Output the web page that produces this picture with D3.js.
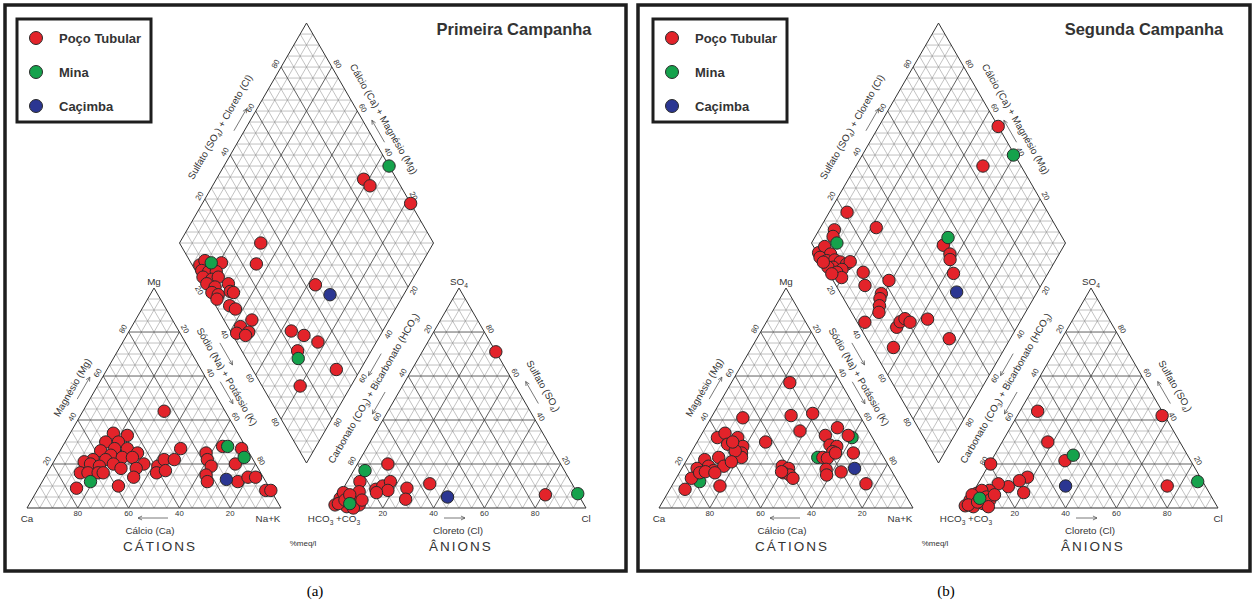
<!DOCTYPE html>
<html>
<head>
<meta charset="utf-8">
<script src="https://cdn.jsdelivr.net/npm/d3@7"></script>
<style>
  html, body { margin: 0; padding: 0; background: #fff; }
  svg { display: block; }
  text { font-family: "Liberation Sans", Arial, sans-serif; fill: #333; }
</style>
</head>
<body>
<svg id="chart" width="1253" height="605"></svg>
<script>
// ---- Series and labels ----------------------------------------------------
const seriesCodes = ["P", "M", "C"];
const seriesNames = ["Poço Tubular", "Mina", "Caçimba"];
const campaignTitles = ["Primeira Campanha", "Segunda Campanha"];
const panelCaptions = ["(a)", "(b)"];
const tickValues = [20, 40, 60, 80];

// Cations: [type, Na+K %, Mg %]  (Ca = 100 - Na+K - Mg)
const cations1 = [
  ["P",32,44],["P",17,34],["P",23,33],["P",16,30],["P",21,30],["P",21,27],["P",26,27],["P",31,25],
  ["P",16,26],["P",21,24],["P",26,23],["P",30,23],["P",15,22],["P",20,22],["P",12,21],["P",15,20],
  ["P",19,19],["P",24,20],["P",28,18],["P",36,20],["P",34,18],["P",13,16],["P",16,16],["P",20,16],
  ["P",22,16],["P",35,14],["P",31,10],["P",15,9],["P",42,19],["P",43,16],["P",43,22],["P",47,22],
  ["P",46,17],["P",47,27],["P",58,25],["P",60,22],["P",63,19],["P",63,15],["P",65,12],["P",63,28],
  ["P",71,27],["P",72,20],["P",77,12],["P",80,14],["P",83,14],["P",90,8],["P",92,8],
  ["M",19,12],["M",65,28],["M",74,23],["C",72,13]
];
// Anions: [type, Cl %, SO4 %]  (HCO3+CO3 = 100 - Cl - SO4)
const anions1 = [
  ["P",29,71],["P",12,20],["P",5,12],["P",13,8.5],["P",15,10],["P",17,12],["P",18,8],["P",14,7],
  ["P",25,9],["P",27,4],["P",33,11],["P",81,6],["P",0.5,1.4],["P",1,4.4],["P",1,7],["P",6.5,5],
  ["P",10,1.4],["P",5.5,0.6],["P",1.5,2],["P",7,7.4],["P",8.4,0],["P",3.3,3.6],["P",10,3.6],["P",4,6],
  ["M",4.5,17],["M",6,2],["M",93.5,6.5],["C",43,5]
];
// Diamond: [type, Ca+Mg %, SO4+Cl %]
const diamond1 = [
  ["P",42,87],["P",38,88],["P",18,100],["P",68,32],["P",65,25.5],["P",37,44],["P",87,3],["P",86,6],
  ["P",79,12],["P",85,2.5],["P",82,5],["P",79,8],["P",83,1.5],["P",79,4.5],["P",77,7.5],["P",80,1.5],
  ["P",76,4],["P",71.5,10],["P",76,1.5],["P",73,3.5],["P",69,9],["P",67.5,10],["P",72.5,2],["P",66,5.5],
  ["P",63,7],["P",54,11],["P",57,5],["P",57,2],["P",52.5,7],["P",53,5],["P",36,24],["P",30,28],
  ["P",23,32],["P",29,22],["P",9.5,33],["P",20,15],
  ["M",35,100],["M",83,8],["M",27,20.5],["C",29,47.5]
];

const cations2 = [
  ["M",10,12],["M",60,32],["M",51,23],
  ["P",23,57],["P",12.5,41],["P",31,42],["P",39,43],["P",38,35],["P",27,30],["P",7,32],["P",9,34],
  ["P",15,32],["P",12.5,29],["P",19,28],["P",20,25],["P",21,23],["P",17,26],["P",14,30],["P",7,22],
  ["P",12,23],["P",6,18],["P",10,19],["P",13,17],["P",16,19],["P",18,21],["P",6,13.5],["P",8,16],
  ["P",10,16.5],["P",14,16],["P",6,8.5],["P",19,10],["P",39,19],["P",42,18],["P",41,16],["P",44,15],
  ["P",46,13.5],["P",40,16.5],["P",49,33],["P",52,36.5],["P",58,33],["P",53,28.6],["P",56,28],
  ["P",55.6,25.6],["P",53,23],["P",55,22.6],["P",57,25],["P",64,25],["P",57,17.6],["P",58.5,15],
  ["P",63.5,16.4],["P",76,11],
  ["C",68,18]
];
const anions2 = [
  ["P",7,44],["P",57,42],["P",18,30],["P",29,21.5],["P",0.5,20],["P",75,10],["P",18,14],["P",15.6,12.4],
  ["P",12.6,9.7],["P",8,11],["P",20,7],["P",6,8],["P",0,1],["P",0.6,3.6],["P",1.7,6.7],["P",3,8],
  ["P",0.2,6],["P",6.3,5],["P",3.4,0.6],["P",6.5,2],["P",8.4,3.6],["P",1,1.4],["P",9.3,0.6],["P",4,2.7],
  ["P",9,6],
  ["M",31,24],["M",86,12],["M",4,4.4],["C",35,10]
];
const diamond2 = [
  ["P",53,100],["P",50,85],["P",93,21],["P",94,12],["P",78,29],["P",93,10],["P",95,0.6],["P",94,4.4],
  ["P",90,5],["P",93.4,0.1],["P",90,2],["P",87,5.3],["P",84.4,7],["P",81.4,9],["P",80.5,11],["P",86,3],
  ["P",82,6],["P",88,1],["P",83.4,3.3],["P",80.3,4],["P",91,0.3],["P",85,1],["P",73,13.7],["P",69.3,11.4],
  ["P",61,22],["P",61,16],["P",60.4,14.3],["P",59,12.5],["P",57.7,10.8],["P",61,3],["P",47.3,14.4],
  ["P",47.2,17],["P",46,19.6],["P",43.2,20.8],["P",37,28.4],["P",44,8.5],["P",47.6,51.4],["P",43,52],
  ["P",41.7,50.8],["P",37.2,49],["P",24,32.5],
  ["M",40.5,99.5],["M",90,10],["M",47.5,55],["C",31.7,46]
];

// ---- Styles ---------------------------------------------------------------
const fillOf = { P: "#e3232a", M: "#15a24c", C: "#2b3692" };
const minorStroke = "#8f8f8f", majorStroke = "#444";

// ---- Geometry -------------------------------------------------------------
const SIDE = 254;
const along = d3.scaleLinear().domain([0, 100]).range([0, SIDE]);
const up = d3.scaleLinear().domain([0, 100]).range([0, SIDE * Math.sqrt(3) / 2]);

// ternary: p = right-corner share, q = apex share
const triPos = (o, p, q) => [o[0] + along(p) + along(q) / 2, o[1] - up(q)];
// diamond: a = Ca+Mg, b = SO4+Cl, o = bottom vertex
const diaPos = (o, a, b) => [o[0] + (along(b) - along(a)) / 2, o[1] - up(a + b)];

function edgePoint(p0, p1, f, off) {
  const dx = p1[0] - p0[0], dy = p1[1] - p0[1];
  const len = Math.hypot(dx, dy);
  const ux = dx / len, uy = dy / len;
  return [p0[0] + dx * f + uy * off, p0[1] + dy * f - ux * off];
}
function edgeAngle(p0, p1) {
  let a = Math.atan2(p1[1] - p0[1], p1[0] - p0[0]) * 180 / Math.PI;
  if (a > 90) a -= 180;
  if (a < -90) a += 180;
  return a;
}

const svg = d3.select("#chart");

function richText(g, x, y, angle, parts, size, anchor) {
  const t = g.append("text")
    .attr("transform", `translate(${x},${y}) rotate(${angle})`)
    .attr("text-anchor", anchor || "middle")
    .attr("y", size * 0.35)
    .attr("font-size", size);
  let shift = 0;
  parts.forEach(([s, sub]) => {
    const want = sub ? size * 0.28 : 0;
    t.append("tspan").text(s)
      .attr("font-size", sub ? size * 0.68 : size)
      .attr("dy", want - shift);
    shift = want;
  });
  return t;
}

function arrow(g, a, b) {
  g.append("line").attr("x1", a[0]).attr("y1", a[1]).attr("x2", b[0]).attr("y2", b[1])
    .attr("stroke", "#555").attr("stroke-width", 0.8);
  const ang = Math.atan2(b[1] - a[1], b[0] - a[0]);
  [0.45, -0.45].forEach(d => {
    g.append("line").attr("x1", b[0]).attr("y1", b[1])
      .attr("x2", b[0] - 4.5 * Math.cos(ang + d)).attr("y2", b[1] - 4.5 * Math.sin(ang + d))
      .attr("stroke", "#555").attr("stroke-width", 0.8);
  });
}

function drawSegments(g, segs, stroke, width) {
  g.selectAll(null).data(segs).join("line")
    .attr("x1", d => d[0][0]).attr("y1", d => d[0][1])
    .attr("x2", d => d[1][0]).attr("y2", d => d[1][1])
    .attr("stroke", stroke).attr("stroke-width", width);
}

function triangleGrid(g, o) {
  const minor = [], major = [];
  for (let k = 5; k < 100; k += 5) {
    const arr = k % 20 === 0 ? major : minor;
    arr.push([triPos(o, 0, k), triPos(o, 100 - k, k)]);
    arr.push([triPos(o, k, 0), triPos(o, k, 100 - k)]);
    arr.push([triPos(o, 100 - k, 0), triPos(o, 0, 100 - k)]);
  }
  drawSegments(g, minor, minorStroke, 0.55);
  drawSegments(g, major, majorStroke, 0.85);
  g.append("polygon")
    .attr("points", [triPos(o, 0, 0), triPos(o, 100, 0), triPos(o, 0, 100)].join(" "))
    .attr("fill", "none").attr("stroke", "#333").attr("stroke-width", 1);
}

function diamondGrid(g, o) {
  const minor = [], major = [];
  for (let k = 5; k < 100; k += 5) {
    const arr = k % 20 === 0 ? major : minor;
    arr.push([diaPos(o, k, 0), diaPos(o, k, 100)]);
    arr.push([diaPos(o, 0, k), diaPos(o, 100, k)]);
  }
  for (let s = 5; s < 200; s += 5) {
    if (s <= 100) minor.push([diaPos(o, s, 0), diaPos(o, 0, s)]);
    else minor.push([diaPos(o, 100, s - 100), diaPos(o, s - 100, 100)]);
  }
  drawSegments(g, minor, minorStroke, 0.55);
  drawSegments(g, major, majorStroke, 0.85);
  g.append("polygon")
    .attr("points", [diaPos(o, 0, 0), diaPos(o, 100, 0), diaPos(o, 100, 100), diaPos(o, 0, 100)].join(" "))
    .attr("fill", "none").attr("stroke", "#333").attr("stroke-width", 1);
}

function edgeTicks(g, p0, p1, items) {
  const ang = edgeAngle(p0, p1);
  items.forEach(([f, label]) => {
    const p = edgePoint(p0, p1, f, 6.5);
    richText(g, p[0], p[1], ang, [[String(label)]], 7.8);
  });
}

function edgeTitle(g, p0, p1, f, off, parts) {
  const p = edgePoint(p0, p1, f, off);
  richText(g, p[0], p[1], edgeAngle(p0, p1), parts, 9.8);
}

function edgeArrow(g, p0, p1, f1, f2, off) {
  arrow(g, edgePoint(p0, p1, f1, off), edgePoint(p0, p1, f2, off));
}

function drawPoints(g, data, project) {
  g.selectAll(null).data(data).join("circle")
    .attr("cx", d => project(d[1], d[2])[0])
    .attr("cy", d => project(d[1], d[2])[1])
    .attr("r", 6.2)
    .attr("fill", d => fillOf[d[0]])
    .attr("stroke", "#2a2a2a").attr("stroke-width", 1);
}

const panels = [
  { ox: 0,   frame: [5, 5, 621, 566],   legendX: 17,  titleX: 514,  capX: 315,
    cat: cations1, an: anions1, dia: diamond1 },
  { ox: 632, frame: [638, 5, 612, 566], legendX: 653, titleX: 1144, capX: 946,
    cat: cations2, an: anions2, dia: diamond2 }
];

panels.forEach((P, i) => {
  const g = svg.append("g");
  const C0 = [P.ox + 27, 508];            // Ca corner of the cation triangle
  const A0 = [P.ox + 332, 508];           // HCO3 corner of the anion triangle
  const B = [P.ox + 306.5, 463];          // bottom vertex of the diamond

  // frame
  g.append("rect").attr("x", P.frame[0]).attr("y", P.frame[1])
    .attr("width", P.frame[2]).attr("height", P.frame[3])
    .attr("fill", "none").attr("stroke", "#1e1e1e").attr("stroke-width", 3.5);

  triangleGrid(g, C0);
  triangleGrid(g, A0);
  diamondGrid(g, B);

  // cation triangle corners
  const cL = triPos(C0, 0, 0), cR = triPos(C0, 100, 0), cT = triPos(C0, 0, 100);
  edgeTicks(g, cL, cT, tickValues.map(v => [v / 100, v]));
  edgeTicks(g, cT, cR, tickValues.map(v => [v / 100, v]));
  tickValues.forEach(v => richText(g, C0[0] + along(100 - v), 513.5, 0, [[String(v)]], 7.8));

  // anion triangle corners
  const aL = triPos(A0, 0, 0), aR = triPos(A0, 100, 0), aT = triPos(A0, 0, 100);
  edgeTicks(g, aL, aT, tickValues.map(v => [v / 100, 100 - v]));
  edgeTicks(g, aT, aR, tickValues.map(v => [1 - v / 100, v]));
  tickValues.forEach(v => richText(g, A0[0] + along(v), 513.5, 0, [[String(v)]], 7.8));

  // diamond vertices
  const dB = diaPos(B, 0, 0), dL = diaPos(B, 100, 0), dT = diaPos(B, 100, 100), dR = diaPos(B, 0, 100);
  edgeTicks(g, dL, dT, tickValues.map(v => [v / 100, v]));
  edgeTicks(g, dT, dR, tickValues.map(v => [1 - v / 100, v]));
  edgeTicks(g, dR, dB, tickValues.map(v => [v / 100, v]));
  edgeTicks(g, dB, dL, tickValues.map(v => [1 - v / 100, v]));

  // corner labels
  richText(g, cT[0], 282, 0, [["Mg"]], 9.8);
  richText(g, cL[0], 518.5, 0, [["Ca"]], 9.8);
  richText(g, cR[0] - 13, 518.5, 0, [["Na+K"]], 9.8);
  richText(g, aT[0], 282, 0, [["SO"], ["4", true]], 9.8);
  richText(g, aL[0] + 2, 518.5, 0, [["HCO"], ["3", true], [" +CO"], ["3", true]], 9.8);
  richText(g, aR[0], 518.5, 0, [["Cl"]], 9.8);

  // axis titles and arrows
  edgeTitle(g, cL, cT, 0.5, 21, [["Magnésio (Mg)"]]);
  edgeArrow(g, cL, cT, 0.47, 0.57, 11);
  edgeTitle(g, cT, cR, 0.446, 19, [["Sódio (Na) + Potássio (K)"]]);
  edgeArrow(g, cT, cR, 0.45, 0.55, 10.5);
  edgeArrow(g, dB, dL, 0.58, 0.48, 15);

  edgeTitle(g, aT, aR, 0.5, 24, [["Sulfato (SO"], ["4", true], [")"]]);
  edgeArrow(g, aT, aR, 0.55, 0.45, 11);
  edgeTitle(g, aL, aT, 0.49, 24, [["Carbonato (CO"], ["3", true], [") + Bicarbonato (HCO"], ["3", true], [")"]]);
  edgeArrow(g, dR, dB, 0.48, 0.58, 10);
  edgeArrow(g, aL, aT, 0.5, 0.4, 12);

  edgeTitle(g, dL, dT, 0.475, 23, [["Sulfato (SO"], ["4", true], [") + Cloreto (Cl)"]]);
  edgeArrow(g, dL, dT, 0.49, 0.59, 9);
  edgeTitle(g, dT, dR, 0.479, 19, [["Cálcio (Ca) + Magnésio (Mg)"]]);
  edgeArrow(g, dT, dR, 0.56, 0.46, 8);

  richText(g, C0[0] + 123, 530.5, 0, [["Cálcio (Ca)"]], 9.8);
  arrow(g, [C0[0] + 141, 518], [C0[0] + 111, 518]);
  richText(g, A0[0] + 126, 530.5, 0, [["Cloreto (Cl)"]], 9.8);
  arrow(g, [A0[0] + 112, 518], [A0[0] + 133, 518]);

  g.append("text").attr("x", C0[0] + 133).attr("y", 550.5).attr("text-anchor", "middle")
    .attr("font-size", 13.5).attr("letter-spacing", 2).text("CÁTIONS");
  g.append("text").attr("x", A0[0] + 129).attr("y", 550.5).attr("text-anchor", "middle")
    .attr("font-size", 13.5).attr("letter-spacing", 2).text("ÂNIONS");
  g.append("text").attr("x", P.ox + 303).attr("y", 546).attr("text-anchor", "middle")
    .attr("font-size", 8).text("%meq/l");

  // samples
  drawPoints(g, P.cat, (na, mg) => triPos(C0, na, mg));
  drawPoints(g, P.an, (cl, so4) => triPos(A0, cl, so4));
  drawPoints(g, P.dia, (camg, so4cl) => diaPos(B, camg, so4cl));

  // legend
  const lg = g.append("g");
  lg.append("rect").attr("x", P.legendX).attr("y", 19).attr("width", 134).attr("height", 103)
    .attr("fill", "#fff").attr("stroke", "#1e1e1e").attr("stroke-width", 3);
  seriesCodes.forEach((c, j) => {
    const cy = 38 + j * 34;
    lg.append("circle").attr("cx", P.legendX + 19).attr("cy", cy).attr("r", 6.5)
      .attr("fill", fillOf[c]).attr("stroke", "#2a2a2a").attr("stroke-width", 1);
    lg.append("text").attr("x", P.legendX + 42).attr("y", cy + 4.5)
      .attr("font-size", 13).attr("font-weight", "bold").text(seriesNames[j]);
  });

  // title and caption
  g.append("text").attr("x", P.titleX).attr("y", 35).attr("text-anchor", "middle")
    .attr("font-size", 16.5).attr("font-weight", "bold").attr("fill", "#3a3a3a").text(campaignTitles[i]);
  g.append("text").attr("x", P.capX).attr("y", 596).attr("text-anchor", "middle")
    .attr("font-size", 15).style("font-family", "'Liberation Serif', 'Times New Roman', serif")
    .style("fill", "#000").text(panelCaptions[i]);
});
</script>
</body>
</html>
